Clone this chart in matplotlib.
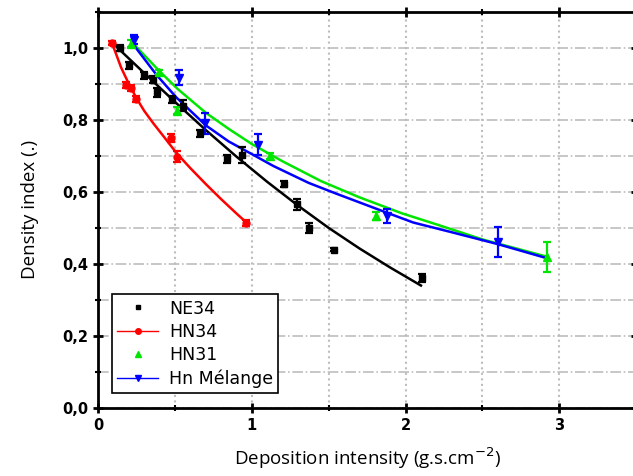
"""Density index vs deposition intensity, four materials with fitted curves."""

import matplotlib
matplotlib.use("Agg")
import matplotlib.pyplot as plt
from matplotlib.lines import Line2D
from matplotlib.ticker import MultipleLocator, FuncFormatter

# measured points (x, y, error)
ne34_x = [0.14, 0.20, 0.30, 0.36, 0.38, 0.48, 0.555, 0.66, 0.84, 0.934, 1.21, 1.295, 1.37, 1.535, 2.11]
ne34_y = [1.00, 0.952, 0.924, 0.912, 0.877, 0.857, 0.84, 0.763, 0.691, 0.703, 0.621, 0.566, 0.50, 0.44, 0.361]
ne34_e = [0.008, 0.01, 0.01, 0.01, 0.012, 0.01, 0.015, 0.01, 0.012, 0.023, 0.008, 0.015, 0.015, 0.005, 0.012]

hn34_x = [0.092, 0.18, 0.214, 0.248, 0.471, 0.51, 0.965]
hn34_y = [1.014, 0.898, 0.889, 0.859, 0.75, 0.698, 0.514]
hn34_e = [0.005, 0.008, 0.008, 0.008, 0.01, 0.015, 0.008]

hn31_x = [0.214, 0.398, 0.515, 1.117, 1.81, 2.917]
hn31_y = [1.012, 0.933, 0.826, 0.70, 0.533, 0.419]
hn31_e = [0.01, 0.005, 0.01, 0.008, 0.012, 0.042]

hnm_x = [0.235, 0.523, 0.693, 1.038, 1.88, 2.603]
hnm_y = [1.023, 0.917, 0.791, 0.731, 0.533, 0.461]
hnm_e = [0.012, 0.021, 0.029, 0.029, 0.02, 0.042]

# fitted curves
ne34_fit_x = [0.12, 0.30, 0.50, 0.70, 0.90, 1.10, 1.30, 1.50, 1.70, 1.90, 2.10]
ne34_fit_y = [1.003, 0.93, 0.85, 0.772, 0.698, 0.628, 0.562, 0.50, 0.443, 0.39, 0.34]

hn34_fit_x = [0.09, 0.15, 0.20, 0.25, 0.30, 0.36, 0.43, 0.51, 0.60, 0.70, 0.80, 0.90, 0.97]
hn34_fit_y = [1.014, 0.945, 0.90, 0.86, 0.825, 0.79, 0.752, 0.708, 0.666, 0.622, 0.58, 0.54, 0.513]

hn31_fit_x = [0.228, 0.40, 0.52, 0.70, 0.85, 1.00, 1.20, 1.45, 1.70, 1.98, 2.20, 2.50, 2.92]
hn31_fit_y = [1.012, 0.935, 0.885, 0.82, 0.775, 0.733, 0.685, 0.63, 0.585, 0.54, 0.51, 0.468, 0.42]

hnm_fit_x = [0.228, 0.38, 0.51, 0.70, 0.85, 1.00, 1.14, 1.37, 1.55, 1.83, 2.05, 2.30, 2.60, 2.91]
hnm_fit_y = [1.01, 0.925, 0.862, 0.785, 0.74, 0.705, 0.672, 0.625, 0.595, 0.55, 0.515, 0.488, 0.455, 0.417]

fig = plt.figure(figsize=(6.33, 4.76), dpi=100)
ax = fig.add_axes([0.155, 0.143, 0.85, 0.832])

series = [
    (ne34_x, ne34_y, ne34_e, ne34_fit_x, ne34_fit_y, "black", "s", 4),
    (hn34_x, hn34_y, hn34_e, hn34_fit_x, hn34_fit_y, "#ff0000", "o", 5),
    (hn31_x, hn31_y, hn31_e, hn31_fit_x, hn31_fit_y, "#00e600", "^", 6),
    (hnm_x, hnm_y, hnm_e, hnm_fit_x, hnm_fit_y, "#0000ff", "v", 6),
]
for x, y, e, fx, fy, c, m, ms in series:
    ax.plot(fx, fy, color=c, lw=1.8, zorder=3)
    ax.errorbar(x, y, yerr=e, fmt=m, color=c, ms=ms, capsize=3, elinewidth=1.6,
                capthick=1.6, zorder=4)

ax.set_xlim(0, 3.5)
ax.set_ylim(0, 1.1)
ax.xaxis.set_major_locator(MultipleLocator(1))
ax.xaxis.set_minor_locator(MultipleLocator(0.5))
ax.yaxis.set_major_locator(MultipleLocator(0.2))
ax.yaxis.set_minor_locator(MultipleLocator(0.1))
ax.xaxis.set_major_formatter(FuncFormatter(lambda v, p: f"{v:.0f}"))
ax.yaxis.set_major_formatter(FuncFormatter(lambda v, p: f"{v:.1f}".replace(".", ",")))

ax.xaxis.grid(True, which="both", color="#bdbdbd", ls=":", lw=1.5)
ax.yaxis.grid(True, which="both", color="#bdbdbd", ls="-.", lw=1.2)
ax.set_axisbelow(True)

for s in ax.spines.values():
    s.set_linewidth(2)
ax.tick_params(which="major", direction="inout", length=7, width=2, top=True, right=True)
ax.tick_params(which="minor", direction="inout", length=5, width=1.5, top=True, right=True)
for lab in ax.get_xticklabels() + ax.get_yticklabels():
    lab.set_fontweight("bold")
    lab.set_fontsize(10.5)

ax.set_xlabel("Deposition intensity (g.s.cm$^{-2}$)", family="Open Sans",
              fontsize=13.5, labelpad=9)
ax.set_ylabel("Density index (.)", family="Open Sans", fontsize=13.5, labelpad=17)

handles = [
    Line2D([], [], color="black", marker="s", ms=3, ls="none"),
    Line2D([], [], color="#ff0000", marker="o", ms=4, lw=1),
    Line2D([], [], color="#00e600", marker="^", ms=4, ls="none"),
    Line2D([], [], color="#0000ff", marker="v", ms=4, lw=1),
]
leg = ax.legend(handles, ["NE34", "HN34", "HN31", "Hn Mélange"], loc="lower left",
                bbox_to_anchor=(0.025, 0.038), fancybox=False, framealpha=1,
                edgecolor="black", fontsize=12.5, handlelength=2.4,
                borderpad=0.3, labelspacing=0.3, handletextpad=0.6,
                borderaxespad=0)
leg.get_frame().set_linewidth(1.2)

fig.savefig("out.png", dpi=100)
